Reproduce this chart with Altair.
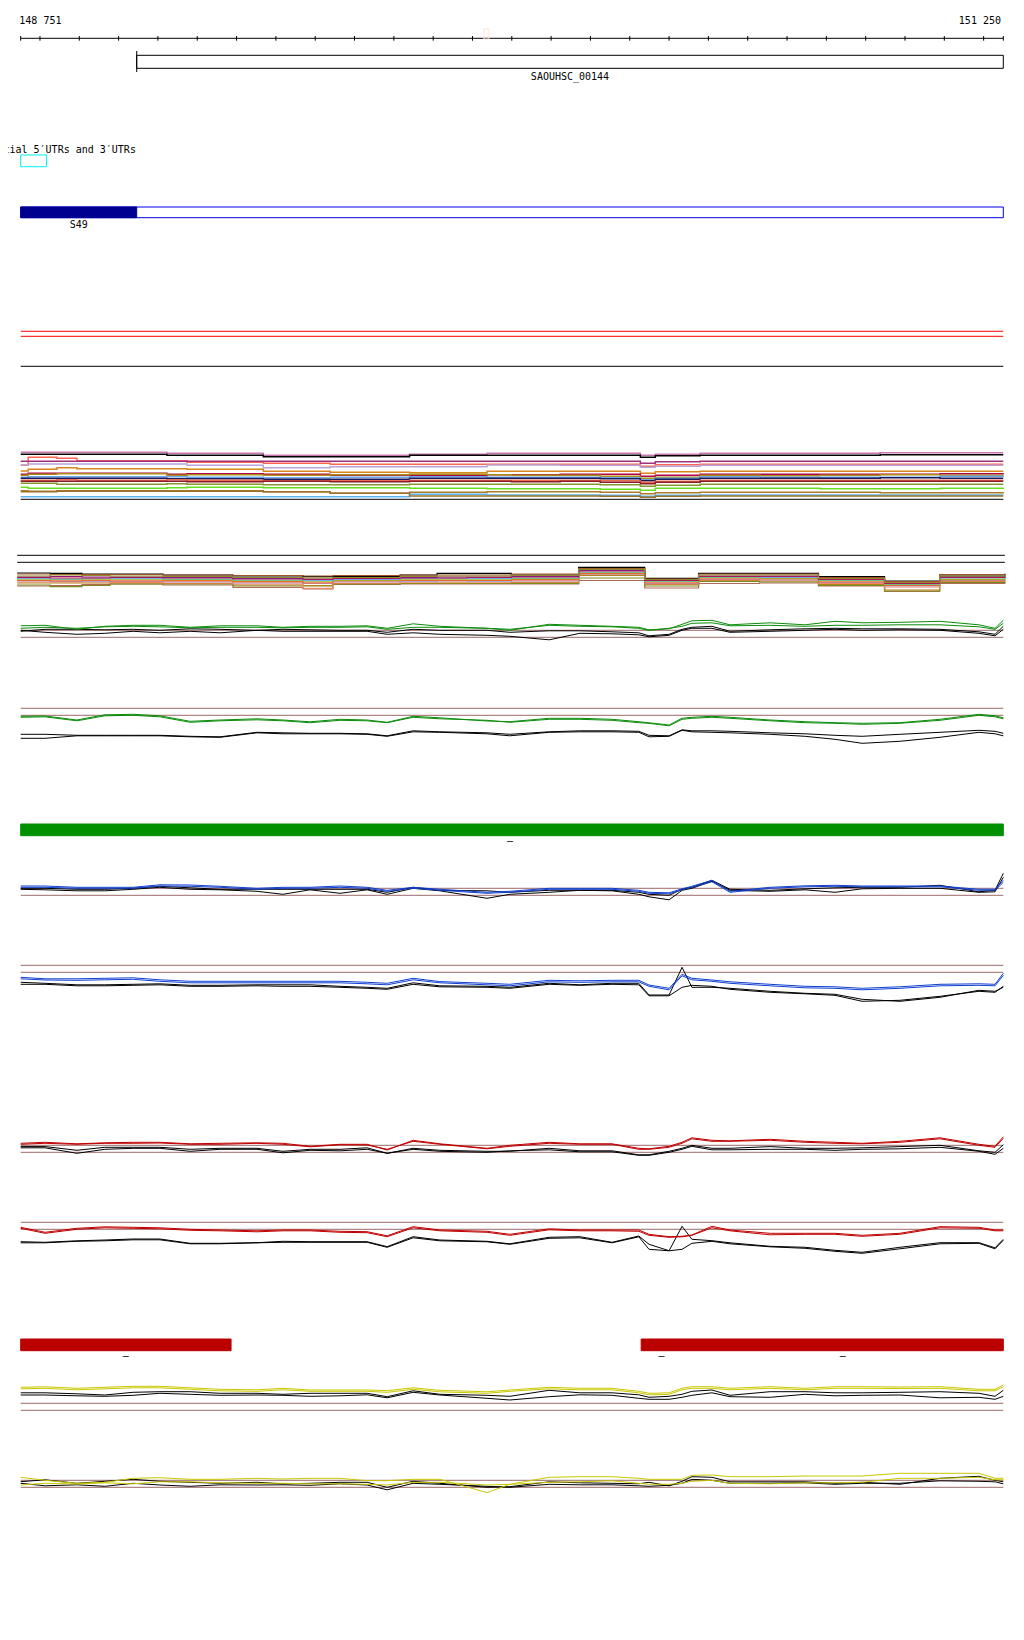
import altair as alt
import pandas as pd

# ------------------------------------------------------------------ data
START = 148751
END = 151250
X_DOMAIN = [148718.7, 151282.3]

RULER_TICKS = [148751, 148800, 148900, 149000, 149100, 149200, 149300, 149400, 149500,
               149600, 149700, 149800, 149900, 150000, 150100, 150200, 150300, 150400,
               150500, 150600, 150700, 150800, 150900, 151000, 151100, 151200, 151250]
END_LABELS = ["148 751", "151 250"]
CURSOR_MARK = [149929, 149942]

GENE_NAMES = ["SAOUHSC_00144"]
GENE_STARTS = [149046]
GENE_ENDS = [151250]

UTR_TITLE = "Potential 5′UTRs and 3′UTRs"
UTR_STARTS = [148751]
UTR_ENDS = [148817]

OPERON_NAMES = ["S49"]
OPERON_STARTS = [148751]
OPERON_ENDS = [149046]

GREEN_STARTS = [148751]
GREEN_ENDS = [151250]
GREEN_STRANDS = ["–"]

RED_STARTS = [148751, 150329, 150433]
RED_ENDS = [149286, 150433, 151250]
RED_STRANDS = ["–", "–", "–"]

THRESHOLDS = [0, 7]

# shared positions of the coverage profiles
COV_X = [148751, 148813, 148894, 148965, 149037, 149105, 149182, 149258, 149352, 149418,
         149487, 149563, 149632, 149683, 149749, 149817, 149937, 149995, 150095, 150173,
         150255, 150323, 150349, 150400, 150433, 150458, 150509, 150555, 150657, 150746,
         150822, 150891, 150987, 151089, 151188, 151229, 151250]

G1_GREEN_A = [11.5, 12, 8, 11, 12, 12, 10, 11.5, 11.5, 10, 11, 11, 11.5, 9, 13.5, 11, 9, 7, 13, 12,
              11, 10, 7.5, 8.5, 13, 16.5, 17, 12.5, 14.5, 12.5, 16, 14.5, 15, 16, 12.5, 9, 17]
G1_GREEN_B = [9, 10, 9, 10.5, 11, 10.5, 9.5, 10, 10, 9.5, 10, 10, 10.5, 8, 10, 10, 9, 8, 12, 11,
              10.5, 9, 7, 9, 11, 14, 14.5, 11.5, 12, 11, 12, 12, 12.5, 12.5, 10.5, 8, 14]
G1_BLACK_A = [6, 8, 8, 7.5, 8, 7, 8.5, 8, 7, 8, 7.5, 7, 7, 5, 8, 7, 7, 5, 6.5, 6.5,
              5.5, 4.5, 1.5, 3, 8, 10, 11, 6, 7.5, 8.5, 9, 8.5, 8.5, 8, 5.5, 3, 11]
G1_BLACK_B = [7, 5, 3, 4, 6, 4.5, 6, 4.5, 7, 6, 6, 6, 6, 3, 4.5, 3, 2, 1, -2.5, 4,
              3.5, 2.5, 0.5, 2, 7, 9, 9, 5, 6, 7, 8, 7, 7.5, 7, 4, 1.5, 8]

G2_GREEN_A = [-1, -0.7, -4.7, 0.5, 1, -0.5, -6, -4.7, -3.5, -4.7, -6.5, -4, -4.7, -7, -1, -2.5, -5.7, -6.4, -3, -3,
              -4, -6.4, -7.5, -9.7, -3, -2, -1, -2, -4.7, -6.4, -7.4, -8, -7.4, -4, 1, -0.5, -2.5]
G2_GREEN_B = [-2, -1.5, -5.5, -0.5, 0, -1.5, -7, -5.5, -4.5, -5.5, -7.4, -5, -5.5, -7.4, -2, -3.5, -5, -7, -4, -4,
              -5, -7.4, -8, -10.5, -4, -3, -2, -3, -5.5, -7.4, -8, -9, -8, -5, 0, -1.5, -3.5]
G2_BLACK_A = [-19, -19, -20, -20, -20, -20, -21, -21.5, -17, -17.5, -18, -18, -18.5, -20.5, -15.5, -16.5, -17.5, -19, -16.5, -15.5,
              -15.5, -16, -20, -20.5, -14.5, -15.5, -15.5, -16, -17.5, -18.5, -20, -21, -19, -17, -15, -16, -18]
G2_BLACK_B = [-23, -23, -20.5, -20.5, -20.5, -20.5, -21.5, -22, -17.5, -18.5, -18.5, -18.5, -19, -21, -16.5, -17, -18.5, -20.5, -17, -16.5,
              -16.5, -17, -21.5, -21, -15, -16.5, -17, -17.5, -19, -21, -24, -28, -26, -22, -17, -18.5, -20.5]

B1_BLUE_A = [9.3, 9.3, 8, 8, 8, 10.5, 10.3, 9, 7, 8, 8, 9.3, 8, 5, 8, 6, 3, 4, 7, 7,
             7, 5, 3, 2.5, 6.5, 9, 15, 4, 8, 9.5, 10, 9.3, 9.3, 9.3, 6, 6, 15]
B1_BLUE_B = [8, 8, 7, 7, 7, 9.3, 9, 8, 6, 7, 7, 8, 7, 4, 7, 5, 2, 3, 6, 6,
             6, 4, 2, 1.5, 5.5, 8, 13.5, 3, 7, 8.5, 9, 8.5, 8.5, 8.5, 5, 5, 13]
B1_BLACK_A = [7, 7, 6, 6, 7, 9, 7.5, 6, 6, 6, 6, 6, 6, 3, 8, 5, 4.5, 3, 5, 5,
              5, 3, 1, 0, 6, 8, 15, 6, 5, 6.5, 7.5, 8, 8, 10, 3.5, 5, 22]
B1_BLACK_B = [6, 5.5, 4.5, 4.5, 6, 8, 6, 5.5, 4, 1, 5.5, 2, 5.5, 1, 7, 4.5, -3, 1, 3, 5,
              4.5, 1, -1.5, -4.5, 5, 7, 14, 5, 4, 5.5, 3, 6.5, 7, 7, 3, 3.5, 18]

B2_BLUE_A = [-5, -6.5, -6.5, -6, -5.5, -7.5, -9, -9, -9, -9, -9, -9, -10, -11, -6, -9.3, -11, -12, -8, -8.5,
             -8, -8, -12.7, -16, -2, -6, -7.7, -9.5, -12, -14, -14.5, -16, -14.5, -12, -11.5, -12, -1]
B2_BLUE_B = [-6.5, -7.7, -8, -7.5, -7, -9, -10.5, -10.5, -10.5, -10.5, -10.5, -10.5, -11.5, -12.5, -7.5, -10.5, -12.5, -13.5, -9.5, -10,
             -9.5, -9.5, -14, -17.5, -3.5, -7.5, -9, -11, -13.5, -15.5, -16, -17.5, -16, -13.5, -13, -13.5, -3]
B2_BLACK_A = [-10, -11, -12.5, -12.5, -12, -11.5, -13, -13, -12.5, -12.5, -12.5, -14, -15, -16, -10.5, -13.5, -14, -15, -11, -12.5,
              -11, -11, -22.7, -22.7, 5, -15, -15, -16, -19, -21, -22, -27, -29, -25, -18, -19, -15]
B2_BLACK_B = [-12, -12, -13.5, -13.5, -13, -12.5, -14, -14, -13.5, -14, -14, -15, -16, -17, -12, -14.5, -15, -16, -12, -13,
              -12, -12.5, -23.5, -23.5, -15, -13, -14, -17, -20, -21.5, -23, -29, -28, -24, -19, -20, -14]

R1_RED_A = [9, 10, 8.5, 9.5, 10, 10, 8.5, 9, 9.5, 9, 6, 8, 8, 2.3, 12, 8.5, 4, 7, 10, 8.5,
            8.5, 4, 3.5, 6, 10, 14.5, 12, 11.5, 13, 11, 10, 9, 11, 14.5, 8, 6, 15.5]
R1_RED_B = [8, 9, 8, 9, 9, 9.3, 8, 8, 9, 8, 5.5, 7.5, 7.3, 3, 11, 8, 3.5, 6, 9, 8,
            8, 3, 3, 5, 9, 13.5, 11, 11, 12, 10, 9, 8.5, 10, 13.5, 7, 5, 14]
R1_BLACK_A = [5.7, 5.7, 2, 5, 5, 5, 3, 4, 4, 1, 3, 3, 4.5, -1, 4, 2, 1, 1, 4, 1.5,
              1.5, -2.5, -2.5, 1, 4, 7, 4, 4, 5.7, 4, 4, 4.5, 5.7, 7, 1.5, 0, 7.5]
R1_BLACK_B = [4.5, 4.5, -1, 3, 4, 4, 1, 3, 3, -0.5, 2, 1.5, 3, -1, 3, 1, 0, 1.5, 2.5, 0.5,
              0.5, -3, -3, 0, 3, 6, 2.5, 2.5, 3, 3, 2, 3, 3.5, 5, 1, -2, 4]

R2_RED_A = [2, -3, 1, 2.5, 2, 1.5, 0, -0.7, -1.5, -0.7, -0.7, -2, -2.4, -6.5, 2.6, -0.7, -2, -5, 0.5, -0.7,
            -0.7, -0.7, -5, -7.4, -7, -5.7, 3, -0.7, -4, -4, -4, -6, -4, 2.6, 2, -0.7, -0.7]
R2_RED_B = [1, -4, 0, 1.5, 1, 0.5, -1, -1.5, -2.5, -1.5, -1.5, -3, -3.4, -7.4, 1.5, -1.5, -3, -6, -0.5, -1.5,
            -1.5, -2, -6, -8, -7.5, -6, 1.5, -1.5, -5.5, -5, -5, -7, -5, 1.5, 1, -1.5, -1.5]
R2_BLACK_A = [-12.4, -13, -11.5, -10.7, -9.7, -9.7, -14, -14, -13.4, -12, -12.4, -12.4, -12.4, -17.4, -7.4, -10.7, -12, -14.5, -8, -7.4,
              -13, -6.7, -15, -21.4, 3, -10, -11.4, -13.5, -17, -18, -21, -23, -18, -13.4, -13.4, -18.5, -10]
R2_BLACK_B = [-13.5, -13.5, -12, -11.5, -10.5, -10.5, -14.5, -14.5, -13.5, -13, -13, -13, -13, -18, -8.5, -11.5, -12.5, -15, -9, -8.5,
              -13.5, -7.5, -20, -21.5, -20, -14, -12, -14.5, -17.5, -19, -22, -24, -19.5, -14.5, -14, -19.5, -11]

Y1_YELLOW_A = [23, 23.5, 22, 23, 24, 24, 22.5, 21, 20.5, 22, 20.3, 20.3, 20.3, 19.7, 22.5, 20, 18.5, 20.3, 23, 22,
               22, 19, 17, 17.5, 22, 23.6, 23.6, 22, 23.6, 22, 23.6, 23.6, 23.3, 23.6, 21, 21, 25.3]
Y1_YELLOW_B = [21.5, 22, 20.5, 21.5, 22.5, 22.5, 21, 19.5, 19, 20.5, 19, 19, 19, 18, 21, 18.5, 17, 19, 21.5, 20.5,
               20.5, 17.5, 15.5, 16, 20.5, 22, 22, 20.5, 22, 20.5, 22, 22, 21.8, 22, 19.5, 19.5, 23.5]
Y1_BLACK_A = [17.5, 17.5, 16.5, 15.3, 18, 18.6, 18.6, 17, 17, 16, 17, 17, 17, 13.6, 19.5, 16, 15, 14, 20, 17.5,
              17.5, 15.5, 13, 14, 16, 19, 20.3, 15, 18.6, 18.6, 17.5, 17.5, 18, 18.6, 17, 14, 20]
Y1_BLACK_B = [15.3, 15.3, 14.5, 14, 15, 17, 16, 15, 15.3, 15, 14, 14.5, 15.5, 12.5, 18, 15.3, 12, 10.3, 13.6, 15.5,
              15, 12, 11, 11, 13, 15, 17.5, 13.6, 13, 16, 14.5, 15, 15.3, 12.5, 13, 11, 14]

Y2_YELLOW_A = [10, 7, 4, 5, 9, 9.6, 8, 8, 9, 8.3, 9, 9, 6.6, 6.6, 8, 8, -5.3, 3, 10, 10.6,
               10.6, 9, 8, 8, 8, 12, 12.3, 10.6, 10.6, 11.3, 11.3, 11.3, 14, 14, 14, 9, 9]
Y2_YELLOW_B = [2.3, 4, 3.3, 4.5, 3.5, 5.5, 5.5, 4.5, 4, 4, 3.5, 3.5, 3, 2.3, 5, 5, 2.3, 3, 5, 5.5,
               6.5, 4, 3, 3, 4, 6, 7, 4, 3.5, 4.5, 4.5, 5, 9, 9, 10, 7.5, 7.5]
Y2_BLACK_A = [5.6, 7.5, 4, 6, 8, 6, 5, 4, 5, 3.5, 4, 5, 5, 0, 6, 4, 0, 0.6, 5.5, 4.5,
              4, 3.5, 5, 1.5, 6, 10.6, 10, 5.5, 5.5, 5.5, 4, 5, 3, 9, 11, 7, 5.6]
Y2_BLACK_B = [4, 1.5, 2.5, 1, 4, 2.3, 1, 2.5, 2.3, 2.5, 2, 3.5, 2.3, -2.5, 4, 3, 1, 0, 3, 2.5,
              2.5, 1.5, 1, 2, 4, 8, 7, 4, 4, 4.5, 3, 4, 4, 6.5, 6, 5.5, 3.5]

# multi-sample profile panel 1 (step profiles)
M1_X = [148751, 148770, 148843, 148894, 149123, 149174, 149368, 149538, 149740, 149937, 149999,
        150123, 150225, 150327, 150365, 150479, 150632, 150784, 150937, 151089, 151250]
M1_S01 = [47, 47, 47, 47, 46, 46, 44, 44, 45, 46, 46, 46, 46, 44, 45, 46, 46, 46, 46.5, 46.5, 46.5]
M1_S02 = [45, 45, 45, 45, 44, 44, 42.6, 42.6, 44, 44, 44, 44, 44, 42, 43.5, 44, 44, 44, 44.5, 44.5, 44.5]
M1_S03 = [34, 42, 41, 38.6, 38.6, 37, 36, 35, 35, 35, 35, 35, 35, 33, 34.5, 35, 35, 35, 35, 35, 35]
M1_S04 = [38, 38, 38, 38, 38, 38, 38, 38, 38, 38, 38, 38, 38, 36, 37.5, 38, 38, 38, 38, 38, 38]
M1_S05 = [34.3, 35.3, 35.3, 35.3, 35.3, 34, 31.6, 32.6, 32.6, 34.3, 34.3, 34, 34, 32, 33, 34, 34, 34, 34, 34, 34]
M1_S06 = [28.3, 30, 31.6, 30.6, 30.6, 30, 28, 27, 26.6, 28, 28, 28, 28, 26, 27.5, 28, 28, 28, 28, 28, 28]
M1_S07 = [25, 26, 26, 26, 25, 25.5, 25, 24, 24, 24.5, 24.5, 25, 25, 23, 24, 25, 25, 25, 25, 25.5, 26]
M1_S08 = [24, 25, 25.5, 25.5, 24, 24.5, 24, 24.5, 25, 24.5, 24, 24, 23, 21, 22, 24, 23.5, 24, 24.5, 24, 24]
M1_S09 = [22, 22.5, 22.5, 22.5, 22.5, 22, 21.5, 22, 22.5, 22, 22, 22, 21.5, 19.5, 21, 22.5, 22, 22, 22, 23, 23.5]
M1_S10 = [21, 21, 21, 21, 20.5, 20.5, 20, 20, 21, 21, 21, 21, 20.5, 18.5, 20, 21, 21, 21, 21.5, 21, 21]
M1_S11 = [19, 19, 19.5, 19, 19.5, 19, 18.5, 18.5, 19, 19, 19, 19, 18.5, 17, 18, 19, 19, 19, 19, 19, 19]
M1_S12 = [18, 18, 18, 18, 18, 17.5, 18, 17.5, 18, 18, 17.5, 18, 17, 15.5, 17, 18, 18, 18, 18, 18, 18]
M1_S13 = [16, 16, 15, 15, 15.5, 15, 14.5, 14.5, 15, 15, 15, 15, 14.5, 13, 14, 15, 15, 15, 15, 15, 15]
M1_S14 = [12, 11, 11, 11, 11.5, 12, 11.5, 11.5, 11, 10.5, 10.5, 10.5, 10, 9, 11, 11, 11, 10.5, 10.5, 11, 11.5]
M1_S15 = [8.6, 8, 8.6, 8.6, 8.6, 8.6, 7.6, 6, 7, 7.6, 7.6, 7.6, 7, 5.5, 6.5, 7, 7, 7, 6.5, 6.5, 7]
M1_S16 = [2.6, 2.6, 2.6, 2.6, 2.6, 2.6, 2.6, 2.6, 5, 4.3, 4.3, 4.3, 4, 3, 4, 4.3, 4.3, 4.3, 4.3, 4.3, 4.3]
M1_S17 = [7.6, 7.6, 8, 8, 8, 8, 7.6, 6, 3.3, 3.3, 3.3, 3.3, 3, 2, 3, 3.3, 3.3, 3.3, 3.3, 3.3, 3.3]

# multi-sample profile panel 2
M2_X = [148742, 148826, 148907, 148978, 149113, 149291, 149469, 149545, 149716, 149810,
        149886, 149999, 150170, 150338, 150475, 150630, 150780, 150948, 151088, 151254]
M2_T01 = [27, 26.7, 26, 26, 25, 24, 23.3, 23.3, 25, 26.7, 26.7, 25, 32.7, 21.7, 26.7, 26.7, 23.3, 19, 24, 26]
M2_T02 = [26, 25.5, 25.5, 25.5, 25, 24.5, 24, 24.5, 25, 25, 25, 26, 31.5, 21, 26, 26, 22.5, 18.5, 25.5, 26.5]
M2_T03 = [24, 25, 24.5, 24, 23.5, 22.5, 22, 22.5, 23.5, 24, 24, 24.5, 30.7, 20.5, 25, 25, 21.5, 17.5, 24, 25]
M2_T04 = [23, 23.5, 23, 23, 22.5, 21.5, 21, 22, 22.5, 23, 23, 23.5, 29.5, 20, 24, 24, 21, 17, 23, 24]
M2_T05 = [22.5, 22, 22, 22.5, 22, 21, 20.5, 21.5, 22, 22, 22.5, 23, 29, 19.5, 23.5, 23.5, 20.5, 16.5, 22.5, 23.5]
M2_T06 = [21.5, 21, 21.5, 21.5, 21, 20, 19.5, 20.5, 21.5, 21.5, 21.5, 22, 28, 19, 23, 22.5, 20, 16, 22, 23]
M2_T07 = [21, 20.5, 21, 21, 20.5, 19.5, 19, 20, 21, 21, 21, 21.5, 27.5, 18.5, 22.5, 22, 19.5, 15.5, 21, 22]
M2_T08 = [20, 20, 20, 20, 19.5, 18.5, 18, 19.5, 20, 20, 20, 20.5, 27, 18, 22, 21.5, 19, 15, 20.5, 21]
M2_T09 = [19.5, 19, 19.5, 19, 19, 18, 17, 19, 19.5, 19.5, 19.5, 20, 26.5, 17, 21, 21, 18, 14.5, 20, 20.5]
M2_T10 = [19, 18.5, 18.5, 18.5, 18, 17, 16.5, 18, 18.5, 19, 18.5, 19, 26, 16.5, 20.5, 20, 17.5, 14, 19.5, 20]
M2_T11 = [18, 18, 18, 17.5, 17, 16, 11.7, 17, 18, 18, 18, 18, 25.5, 16, 20, 19.5, 16.5, 13, 19, 19.5]
M2_T12 = [17, 17, 17, 17, 16.5, 15, 14.5, 16.5, 17, 17, 17, 17.5, 24.5, 15.5, 19.5, 19, 15.5, 10, 18.5, 19]
M2_T13 = [15, 13.3, 14.5, 16, 16, 14, 14, 16, 16.5, 16.5, 16.5, 16.5, 22, 14, 18.5, 18, 14.5, 9, 17.5, 18]
M2_T14 = [14, 14.5, 15.5, 16, 15, 12.5, 11, 15.5, 16, 16, 16, 16, 19.5, 12, 16.5, 17, 14, 8.5, 16.5, 17.5]
M2_REF = [44.7, 37.7]

# ------------------------------------------------------------------ styling / layout
FONT = "DejaVu Sans Mono"
W = 1008
BROWN = "#9c6a6a"
GREEN = "#0b8c0b"
BLUE = "#1040d0"
RED = "#c00000"
YELLOW = "#c8c800"


def X(field="x"):
    return alt.X(f"{field}:Q", scale=alt.Scale(domain=X_DOMAIN, nice=False, zero=False), axis=None)


def lane_scale(h):
    return alt.Scale(domain=[h, 0], nice=False, zero=False)


def YD(v, sc):
    return alt.YDatum(v, type="quantitative", scale=sc, axis=None)


def span_df(starts, ends):
    return pd.DataFrame({"x": starts, "x2": ends})


def hline(starts, ends, y, sc, color):
    return alt.Chart(span_df(starts, ends)).mark_rule(color=color, strokeWidth=1).encode(
        x=X(), x2="x2:Q", y=YD(y, sc))


def box(starts, ends, y1, y2, sc, fill=None, stroke=None):
    kw = {"strokeWidth": 1}
    kw["fill"] = fill if fill else "transparent"
    if stroke:
        kw["stroke"] = stroke
    return alt.Chart(span_df(starts, ends)).mark_rect(**kw).encode(
        x=X(), x2="x2:Q", y=YD(y1, sc), y2=alt.Y2Datum(y2))


def label(xs, texts, y, sc, align="center", dx=0, size=10, clip=False, weight="normal"):
    df = pd.DataFrame({"x": xs, "t": texts})
    return alt.Chart(df).mark_text(align=align, baseline="middle", font=FONT, fontSize=size,
                                   fontWeight=weight, color="black", dx=dx, clip=clip).encode(
        x=X(), y=YD(y, sc), text="t:N")


def panel(layers, h):
    return alt.layer(*layers).properties(width=W, height=h)


def profile_lines(xs, series, sc, interp, width):
    rows = []
    for name, color, vals in series:
        for x, v in zip(xs, vals):
            rows.append({"x": x, "v": v, "s": name})
    df = pd.DataFrame(rows)
    names = [s[0] for s in series]
    colors = [s[1] for s in series]
    return alt.Chart(df).mark_line(interpolate=interp, strokeWidth=width).encode(
        x=X(), y=alt.Y("v:Q", scale=sc, axis=None),
        color=alt.Color("s:N", scale=alt.Scale(domain=names, range=colors), legend=None),
        detail="s:N")


def coverage_panel(h, lo, hi, series):
    sc = alt.Scale(domain=[lo, hi], nice=False, zero=False)
    thr = alt.Chart(pd.DataFrame({"x": [START] * len(THRESHOLDS), "x2": [END] * len(THRESHOLDS),
                                  "v": THRESHOLDS})).mark_rule(color=BROWN, strokeWidth=1).encode(
        x=X(), x2="x2:Q", y=alt.Y("v:Q", scale=sc, axis=None))
    return panel([thr, profile_lines(COV_X, series, sc, "linear", 1)], h)


# ------------------------------------------------------------------ panels
panels = []

# ruler
h = 40
sc = lane_scale(h)
ticks = alt.Chart(pd.DataFrame({"x": RULER_TICKS})).mark_rule(color="black", strokeWidth=1).encode(
    x=X(), y=YD(28, sc), y2=alt.Y2Datum(32.7))
panels.append(panel([
    hline([START], [END], 30.3, sc, "black"),
    ticks,
    box([CURSOR_MARK[0]], [CURSOR_MARK[1]], 21, 31, sc, stroke="#ffe0d4"),
    label([START], [END_LABELS[0]], 12.6, sc, align="left", dx=-1.4),
    label([END], [END_LABELS[1]], 12.6, sc, align="right", dx=-2.3),
], h))

# gene
h = 42
sc = lane_scale(h)
gene_mid = [(a + b) / 2 for a, b in zip(GENE_STARTS, GENE_ENDS)]
start_tick = alt.Chart(pd.DataFrame({"x": GENE_STARTS})).mark_rule(color="black", strokeWidth=1).encode(
    x=X(), y=YD(3, sc), y2=alt.Y2Datum(24))
panels.append(panel([
    box(GENE_STARTS, GENE_ENDS, 7.3, 20.3, sc, fill="white", stroke="black"),
    start_tick,
    label(gene_mid, GENE_NAMES, 28.9, sc),
], h))

# potential UTRs
h = 90
sc = lane_scale(h)
panels.append(panel([
    label([GENE_STARTS[0] - 2], [UTR_TITLE], 59.9, sc, align="right", clip=True),
    box(UTR_STARTS, UTR_ENDS, 65, 76.7, sc, stroke="#00f0f0"),
], h))

# operon S49
h = 60
sc = lane_scale(h)
op_mid = [(a + b) / 2 for a, b in zip(OPERON_STARTS, OPERON_ENDS)]
panels.append(panel([
    box([START], [END], 27, 37.7, sc, stroke="#0000e8"),
    box(OPERON_STARTS, OPERON_ENDS, 27, 37.7, sc, fill="#000090", stroke="#000090"),
    label(op_mid, OPERON_NAMES, 44.6, sc),
], h))

# red lines + black line
h = 135
sc = lane_scale(h)
panels.append(panel([
    hline([START], [END], 91.3, sc, "#ff0000"),
    hline([START], [END], 96.3, sc, "#ff0000"),
    hline([START], [END], 126.3, sc, "black"),
], h))

# multi-sample panel 1
h = 135
sc1 = alt.Scale(domain=[-10.7, 124.3], nice=False, zero=False)
m1_series = [
    ("s01", "#c878b0", M1_S01), ("s02", "#000000", M1_S02), ("s03", "#ff6450", M1_S03),
    ("s04", "#a0307a", M1_S04), ("s05", "#b8a4d8", M1_S05), ("s06", "#d8861c", M1_S06),
    ("s07", "#b4004a", M1_S07), ("s08", "#a89018", M1_S08), ("s09", "#6aa6e8", M1_S09),
    ("s10", "#1a1a60", M1_S10), ("s11", "#e8704c", M1_S11), ("s12", "#8c1c2c", M1_S12),
    ("s13", "#889830", M1_S13), ("s14", "#66e01c", M1_S14), ("s15", "#a87c2c", M1_S15),
    ("s16", "#5ab4f0", M1_S16), ("s17", "#9c7028", M1_S17),
]
m1_base = alt.Chart(pd.DataFrame({"x": [START], "x2": [END], "v": [0]})).mark_rule(
    color="black", strokeWidth=1).encode(x=X(), x2="x2:Q", y=alt.Y("v:Q", scale=sc1, axis=None))
panels.append(panel([m1_base, profile_lines(M1_X, m1_series, sc1, "step-after", 1.5)], h))

# multi-sample panel 2
h = 90
sc2 = alt.Scale(domain=[0, 90], nice=False, zero=False)
m2_series = [
    ("t01", "#000000", M2_T01), ("t02", "#a0522d", M2_T02), ("t14", "#b06a5a", M2_T14),
    ("t13", "#7a8a20", M2_T13), ("t12", "#b08418", M2_T12), ("t11", "#ee8866", M2_T11),
    ("t10", "#b4a2d6", M2_T10), ("t09", "#e8583a", M2_T09), ("t08", "#e6781e", M2_T08),
    ("t07", "#6ad820", M2_T07), ("t06", "#70aaf0", M2_T06), ("t05", "#c8143c", M2_T05),
    ("t04", "#8a1a7a", M2_T04), ("t03", "#908a2a", M2_T03),
]
m2_ref = alt.Chart(pd.DataFrame({"x": [M2_X[0]] * 2, "x2": [M2_X[-1]] * 2, "v": M2_REF})).mark_rule(
    color="black", strokeWidth=1).encode(x=X(), x2="x2:Q", y=alt.Y("v:Q", scale=sc2, axis=None))
panels.append(panel([m2_ref, profile_lines(M2_X, m2_series, sc2, "step-after", 1.2)], h))

# green profiles
panels.append(coverage_panel(70, -32.7, 37.3, [
    ("b2", "black", G1_BLACK_B), ("b1", "black", G1_BLACK_A),
    ("c2", GREEN, G1_GREEN_B), ("c1", GREEN, G1_GREEN_A)]))
panels.append(coverage_panel(100, -54.7, 45.3, [
    ("b2", "black", G2_BLACK_B), ("b1", "black", G2_BLACK_A),
    ("c2", GREEN, G2_GREEN_B), ("c1", GREEN, G2_GREEN_A)]))

# green feature bar
h = 90
sc = lane_scale(h)
gmid = [(a + b) / 2 for a, b in zip(GREEN_STARTS, GREEN_ENDS)]
panels.append(panel([
    box(GREEN_STARTS, GREEN_ENDS, 54, 65.7, sc, fill="#009000", stroke="#009000"),
    label(gmid, GREEN_STRANDS, 71.3, sc, size=10, dx=-2),
], h))

# blue profiles
panels.append(coverage_panel(70, -34.7, 35.3, [
    ("b2", "black", B1_BLACK_B), ("b1", "black", B1_BLACK_A),
    ("c2", BLUE, B1_BLUE_B), ("c1", BLUE, B1_BLUE_A)]))
panels.append(coverage_panel(100, -57.7, 42.3, [
    ("b2", "black", B2_BLACK_B), ("b1", "black", B2_BLACK_A),
    ("c2", BLUE, B2_BLUE_B), ("c1", BLUE, B2_BLUE_A)]))

# red profiles
panels.append(coverage_panel(150, -27.7, 122.3, [
    ("b2", "black", R1_BLACK_B), ("b1", "black", R1_BLACK_A),
    ("c2", RED, R1_RED_B), ("c1", RED, R1_RED_A)]))
panels.append(coverage_panel(120, -70.7, 49.3, [
    ("b2", "black", R2_BLACK_B), ("b1", "black", R2_BLACK_A),
    ("c2", RED, R2_RED_B), ("c1", RED, R2_RED_A)]))

# red feature bars
h = 70
sc = lane_scale(h)
rmid = [(a + b) / 2 for a, b in zip(RED_STARTS, RED_ENDS)]
panels.append(panel([
    box(RED_STARTS, RED_ENDS, 39, 50.7, sc, fill="#bb0000", stroke="#bb0000"),
    label(rmid, RED_STRANDS, 56, sc, size=10),
], h))

# yellow profiles
panels.append(coverage_panel(70, -29.7, 40.3, [
    ("b2", "black", Y1_BLACK_B), ("b1", "black", Y1_BLACK_A),
    ("c2", YELLOW, Y1_YELLOW_B), ("c1", YELLOW, Y1_YELLOW_A)]))
panels.append(coverage_panel(80, -32.7, 47.3, [
    ("b2", "black", Y2_BLACK_B), ("b1", "black", Y2_BLACK_A),
    ("c2", YELLOW, Y2_YELLOW_B), ("c1", YELLOW, Y2_YELLOW_A)]))

chart = alt.vconcat(*panels, spacing=0, bounds="flush").resolve_scale(
    x="independent", y="independent", color="independent"
).properties(padding=0, background="white").configure_view(stroke=None)

chart.save("out.html", embed_options={"renderer": "svg", "actions": False})
